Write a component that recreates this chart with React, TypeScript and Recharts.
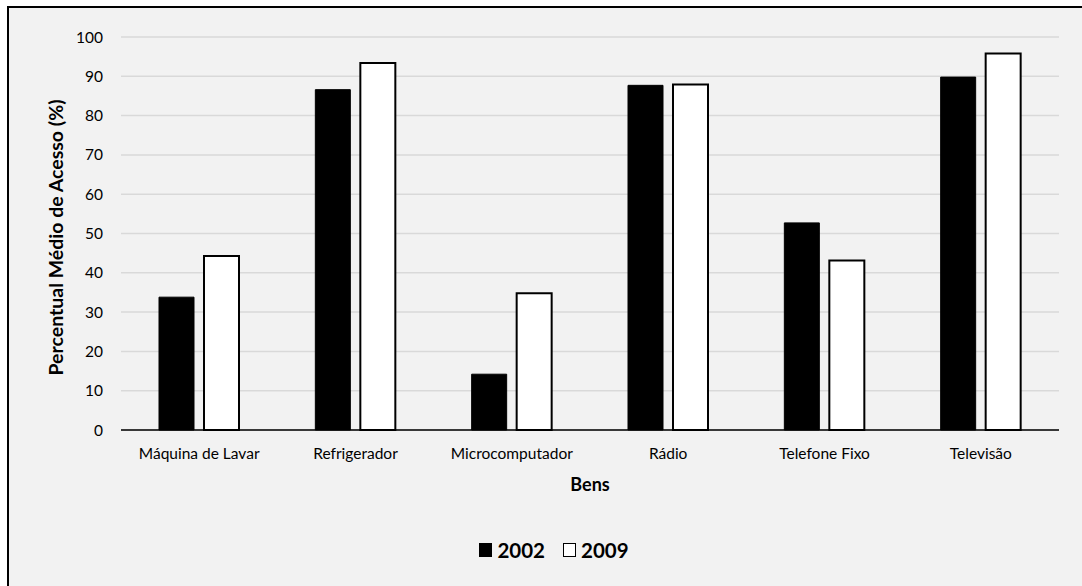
import React from "react";
import { BarChart, Bar, XAxis, YAxis, CartesianGrid } from "recharts";

const bens = ["Máquina de Lavar", "Refrigerador", "Microcomputador", "Rádio", "Telefone Fixo", "Televisão"];
const acesso2002 = [33.8, 86.6, 14.2, 87.7, 52.7, 89.8];
const acesso2009 = [44.3, 93.4, 34.8, 87.9, 43.1, 95.8];
const yTicks = [0, 10, 20, 30, 40, 50, 60, 70, 80, 90, 100];

const series = [
  { key: "a2002", name: "2002", fill: "#000000" },
  { key: "a2009", name: "2009", fill: "#ffffff" },
];

const data = bens.map((bem, i) => ({ bem, a2002: acesso2002[i], a2009: acesso2009[i] }));

const FONT = "Lato, 'Open Sans', sans-serif";

function YTitle({ viewBox }: any) {
  const cx = viewBox.x + 55;
  const cy = viewBox.y + viewBox.height / 2 + 4;
  return (
    <text x={cx} y={cy} transform={`rotate(-90 ${cx} ${cy})`} textAnchor="middle"
      dominantBaseline="central" fontFamily={FONT} fontSize={19.5} fontWeight={700} fill="#000">
      Percentual Médio de Acesso (%)
    </text>
  );
}

function XTitle({ viewBox }: any) {
  return (
    <text x={viewBox.x + viewBox.width / 2} y={viewBox.y + 54} textAnchor="middle"
      dominantBaseline="central" fontFamily={FONT} fontSize={18} fontWeight={700} fill="#000">
      Bens
    </text>
  );
}

export default function App() {
  return (
    <div style={{ position: "absolute", left: 0, top: 0, width: 1082, height: 586, overflow: "hidden", background: "#fff" }}>
      <div style={{
        position: "absolute", left: 7, top: 6, width: 1300, height: 700,
        border: "2px solid #000", background: "#f2f2f2",
      }} />
      <div style={{ position: "absolute", left: 0, top: 0 }}>
        <BarChart width={1082} height={586} data={data}
          margin={{ top: 37, right: 23, left: 0, bottom: 76 }}
          barSize={35} barGap={10}>
          <CartesianGrid vertical={false} stroke="#d9d9d9" strokeWidth={1.5} />
          <XAxis dataKey="bem" height={80} interval={0}
            axisLine={{ stroke: "#000", strokeWidth: 1.5 }} tickLine={false} tickMargin={12}
            tick={{ fill: "#000", fontSize: 15.5, fontFamily: FONT }}
            label={{ content: XTitle }} />
          <YAxis width={121} domain={[0, 100]} ticks={yTicks} interval={0}
            axisLine={false} tickLine={false} tickMargin={12}
            tick={{ fill: "#000", fontSize: 15.5, fontFamily: FONT }}
            label={{ content: YTitle }} />
          {series.map((s) => (
            <Bar key={s.key} dataKey={s.key} name={s.name} fill={s.fill}
              stroke="#000" strokeWidth={s.fill === "#ffffff" ? 2 : 1} isAnimationActive={false} />
          ))}
        </BarChart>
      </div>
      <div style={{
        position: "absolute", left: 0, top: 538, width: 1108, display: "flex",
        justifyContent: "center", alignItems: "center", gap: 18,
        fontFamily: FONT, fontWeight: 700, fontSize: 20.5, color: "#000",
      }}>
        {series.map((s) => (
          <div key={s.key} style={{ display: "flex", alignItems: "center", gap: 5 }}>
            <span style={{
              display: "inline-block", width: 11, height: 12,
              background: s.fill, border: "1.5px solid #000",
            }} />
            <span>{s.name}</span>
          </div>
        ))}
      </div>
    </div>
  );
}
